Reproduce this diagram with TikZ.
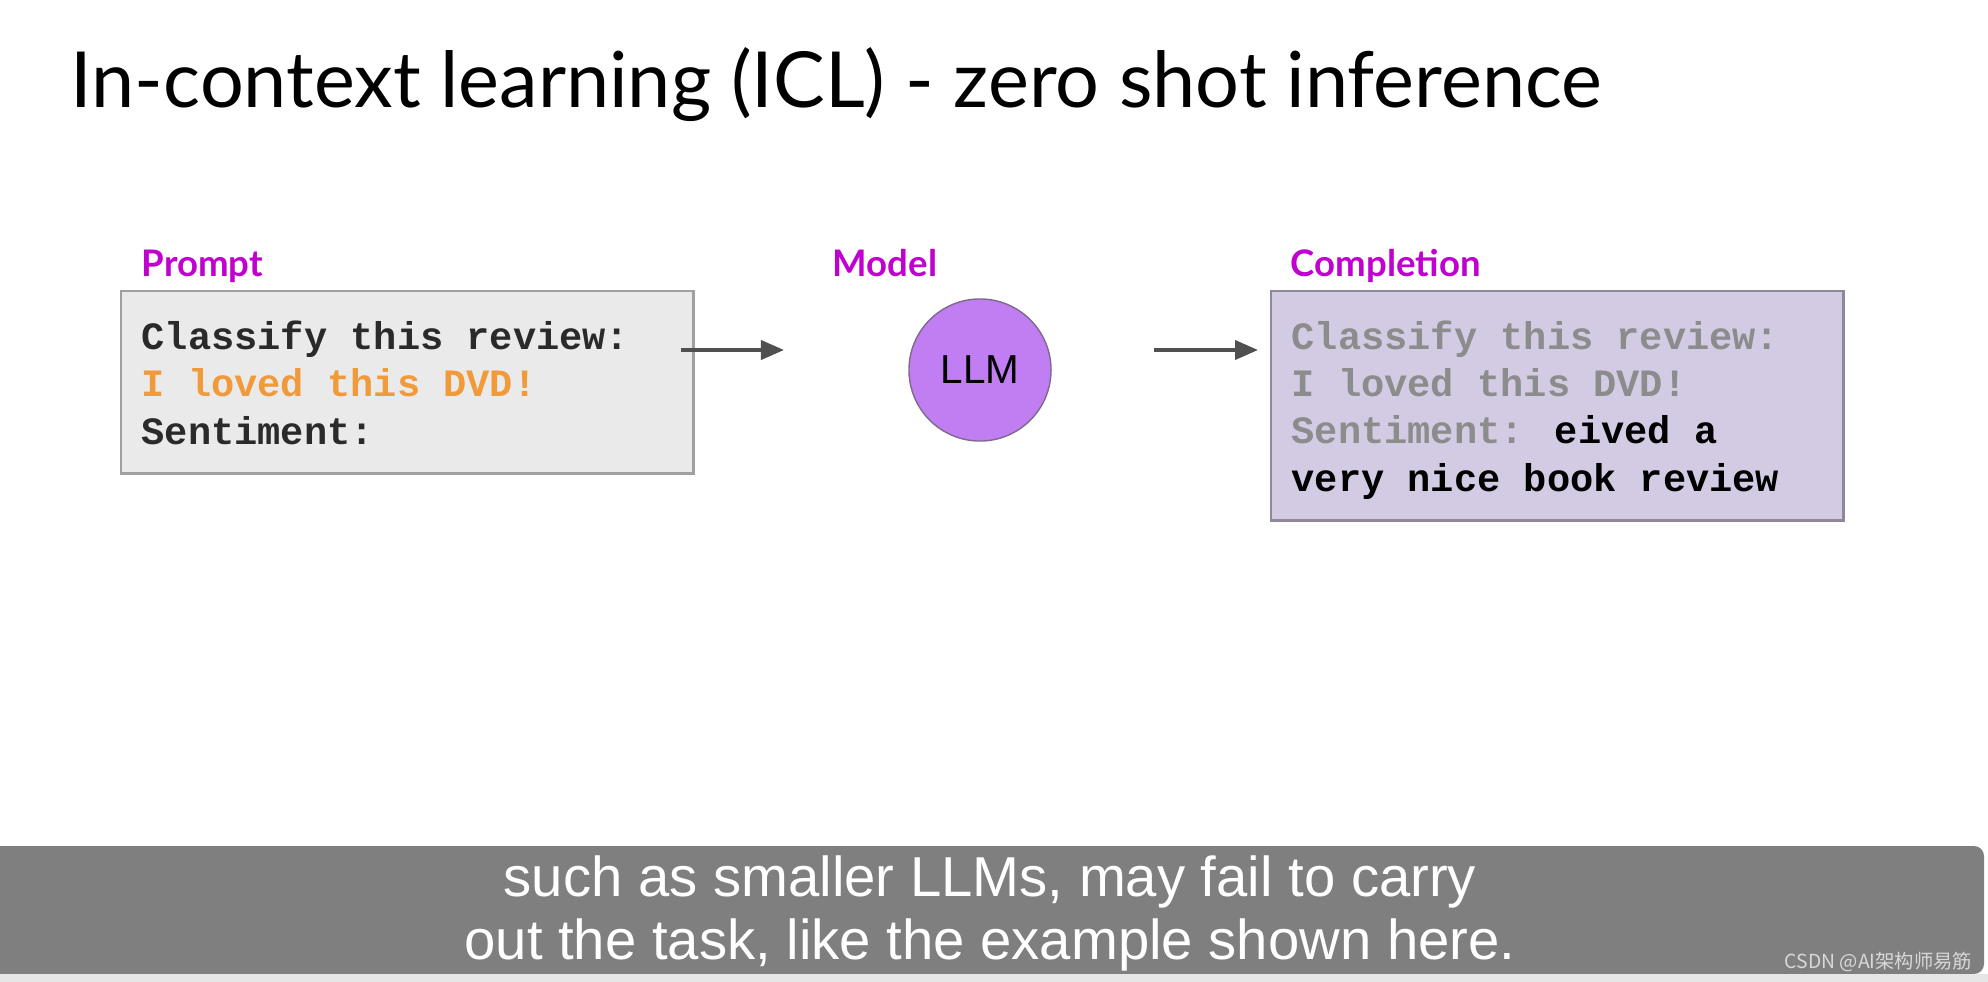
\documentclass[tikz,border=0pt]{standalone}
\usepackage{fontspec}
\usepackage{xcolor}
\usepackage{tikz}
\usetikzlibrary{arrows.meta, positioning}
\setmainfont{Lato}
\newfontfamily\codefont{Liberation Mono}
\newfontfamily\capfont{Liberation Sans}
\newfontfamily\wmfont{Noto Sans CJK SC}
\definecolor{iclmagenta}{HTML}{BF00CF}
\definecolor{iclorange}{HTML}{F09A3A}
\definecolor{icldark}{HTML}{2A2A2A}
\definecolor{iclgray}{HTML}{8C8C8C}
\definecolor{promptfill}{HTML}{EAEAEA}
\definecolor{promptedge}{HTML}{A0A0A0}
\definecolor{compfill}{HTML}{D3CBE4}
\definecolor{compedge}{HTML}{8E8899}
\definecolor{llmfill}{HTML}{C17DF2}
\definecolor{llmedge}{HTML}{7D6A8C}
\definecolor{arrowgray}{HTML}{505050}
\definecolor{bargray}{HTML}{7F7F7F}
\definecolor{stripgray}{HTML}{E6E6E6}
\definecolor{wmgray}{HTML}{D8D8D8}

\begin{document}
\begin{tikzpicture}[
  x=0.01cm, y=-0.01cm,
  head/.style={
    anchor=base west,
    inner sep=0pt,
    text=iclmagenta,
    font=\bfseries\fontsize{10.4}{12.5}\selectfont
  },
  box/.style={
    rectangle,
    anchor=north west,
    minimum width=5.72cm,
    line width=0.7pt
  },
  code/.style={
    anchor=base west,
    inner sep=0pt,
    align=left,
    font=\codefont\bfseries\fontsize{11}{13.37}\selectfont
  },
  model/.style={
    circle,
    draw=llmedge,
    fill=llmfill,
    minimum size=1.42cm,
    inner sep=0pt,
    font=\capfont\fontsize{11.5}{13}\selectfont
  },
  arrow/.style={-{Triangle[length=2.3mm,width=1.9mm]}, line width=1.1pt, arrowgray}
]
  \useasboundingbox (0,0) rectangle (1988,982);

  % Title
  \node[anchor=base west, inner sep=0pt, font=\fontsize{22}{26}\selectfont] (title) at (70,108)
    {In-context learning (ICL) - zero shot inference};

  % Headings
  \node[head] (prompthead) at (141,277) {Prompt};
  \node[head] (modelhead) at (832,277) {Model};
  \node[head] (comphead) at (1290,277) {Completion};

  % Prompt (base = last line)
  \node[box, draw=promptedge, fill=promptfill, minimum height=1.82cm] (prompt) at (120,290) {};
  \node[code, text=icldark] (prompttext) at (141,444)
    {Classify this review:\\{\color{iclorange}I loved this DVD!}\\Sentiment:};

  % Model
  \node[model] (llm) at (980,370) {LLM};

  % Completion
  \node[box, draw=compedge, fill=compfill, minimum height=2.29cm] (comp) at (1270,290) {};
  \node[code, text=iclgray] (comptext) at (1291,491)
    {Classify this review:\\I loved this DVD!\\Sentiment: {\color{black}eived a}\\{\color{black}very nice book review}};

  % Flow
  \coordinate (feedin) at (681,350);
  \coordinate (feedout) at (784,350);
  \coordinate (genin) at (1154,350);
  \coordinate (genout) at (1258,350);
  \draw[arrow] (feedin) -- (feedout);
  \draw[arrow] (genin) -- (genout);

  % Caption bar
  \fill[bargray, rounded corners=0.1cm] (-30,846) rectangle (1984,974);
  \fill[stripgray] (0,974) rectangle (1988,982);
  \node[anchor=base, align=center, text=white, font=\capfont\fontsize{16}{17.9}\selectfont] (caption) at (990,959)
    {such as smaller LLMs, may fail to carry\\out the task, like the example shown here.};
  \node[anchor=base east, inner sep=0pt, text=wmgray, font=\wmfont\fontsize{5.5}{6}\selectfont] (mark) at (1973,968)
    {CSDN @AI架构师易筋};
\end{tikzpicture}
\end{document}
